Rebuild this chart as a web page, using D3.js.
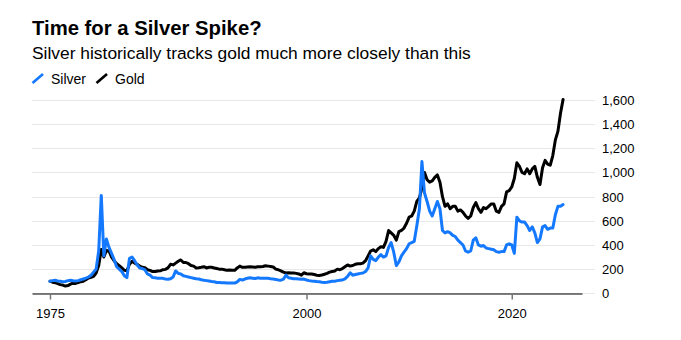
<!DOCTYPE html>
<html>
<head>
<meta charset="utf-8">
<script src="https://cdn.jsdelivr.net/npm/d3@7"></script>
<style>
  body { margin: 0; background: #fff; }
  svg { font-family: "Liberation Sans", Arial, Helvetica, sans-serif; display: block; }
  .title { font-size: 20.3px; font-weight: bold; fill: #000; }
  .subtitle { font-size: 17.4px; fill: #000; }
  .legend text { font-size: 14px; fill: #000; }
  .tick text { font-size: 13px; fill: #000; }
</style>
</head>
<body>
<svg id="chart"></svg>
<script>
// Prices indexed to 100 at the start of 1975, one value per quarter (Jan, Apr, Jul, Oct)
var startYear = 1975

var gold = [
  100, 92, 88, 80,        // 1975
  72, 68, 60, 64,         // 1976
  76, 84, 82, 88,         // 1977
  96, 100, 112, 126,      // 1978
  132, 140, 168, 230,     // 1979
  362, 300, 355, 350,     // 1980
  300, 270, 245, 228,     // 1981
  210, 190, 187, 240,     // 1982
  265, 250, 240, 225,     // 1983
  215, 212, 195, 190,     // 1984
  180, 180, 185, 186,     // 1985
  195, 198, 210, 240,     // 1986
  235, 250, 265, 276,     // 1987
  255, 255, 245, 230,     // 1988
  225, 210, 212, 215,     // 1989
  220, 210, 215, 215,     // 1990
  210, 205, 200, 200,     // 1991
  195, 190, 192, 190,     // 1992
  190, 210, 225, 215,     // 1993
  215, 218, 220, 218,     // 1994
  215, 220, 220, 222,     // 1995
  228, 225, 222, 218,     // 1996
  200, 195, 185, 175,     // 1997
  168, 170, 168, 168,     // 1998
  165, 160, 150, 170,     // 1999
  162, 160, 160, 155,     // 2000
  150, 148, 152, 158,     // 2001
  165, 175, 180, 185,     // 2002
  200, 195, 205, 220,     // 2003
  235, 225, 230, 240,     // 2004
  245, 245, 250, 270,     // 2005
  310, 350, 360, 345,     // 2006
  370, 385, 380, 430,     // 2007
  520, 500, 480, 440,     // 2008
  510, 520, 540, 580,     // 2009
  630, 640, 680, 760,     // 2010
  790, 870, 1000, 940,    // 2011
  920, 930, 960, 980,     // 2012
  920, 800, 720, 740,     // 2013
  700, 720, 720, 680,     // 2014
  690, 670, 640, 620,     // 2015
  640, 710, 750, 700,     // 2016
  670, 710, 700, 720,     // 2017
  740, 740, 680, 670,     // 2018
  720, 740, 840, 850,     // 2019
  880, 950, 1080, 1050,   // 2020
  1000, 990, 1030, 990,   // 2021
  1030, 1050, 960, 900,   // 2022
  1040, 1100, 1070, 1060, // 2023
  1140, 1270, 1340, 1490, // 2024
  1605                    // 2025
]

var silver = [
  100, 105, 108, 102,     // 1975
  100, 96, 98, 105,       // 1976
  108, 104, 102, 105,     // 1977
  112, 118, 125, 135,     // 1978
  150, 175, 200, 350,     // 1979
  810, 310, 450, 380,     // 1980
  330, 280, 220, 200,     // 1981
  180, 145, 130, 290,     // 1982
  300, 270, 235, 210,     // 1983
  205, 195, 160, 150,     // 1984
  130, 128, 125, 124,     // 1985
  124, 118, 116, 120,     // 1986
  135, 185, 165, 160,     // 1987
  145, 140, 135, 130,     // 1988
  125, 120, 118, 112,     // 1989
  108, 105, 102, 98,      // 1990
  95, 90, 90, 88,         // 1991
  88, 85, 85, 86,         // 1992
  85, 95, 115, 110,       // 1993
  118, 125, 128, 125,     // 1994
  122, 128, 125, 124,     // 1995
  125, 124, 120, 118,     // 1996
  115, 110, 108, 118,     // 1997
  150, 128, 125, 120,     // 1998
  120, 118, 116, 118,     // 1999
  110, 105, 102, 100,     // 2000
  97, 95, 92, 90,         // 2001
  92, 96, 100, 100,       // 2002
  105, 108, 110, 120,     // 2003
  140, 170, 150, 155,     // 2004
  160, 165, 168, 180,     // 2005
  210, 310, 280, 270,     // 2006
  300, 320, 300, 310,     // 2007
  380, 420, 340, 230,     // 2008
  260, 310, 340, 370,     // 2009
  410, 420, 430, 560,     // 2010
  700, 1090, 830, 760,    // 2011
  680, 640, 700, 760,     // 2012
  700, 520, 500, 510,     // 2013
  500, 480, 470, 440,     // 2014
  420, 400, 350, 340,     // 2015
  350, 440, 460, 400,     // 2016
  390, 395, 375, 370,     // 2017
  365, 360, 345, 340,     // 2018
  345, 345, 400, 410,     // 2019
  400, 330, 630, 600,     // 2020
  590, 590, 560, 520,     // 2021
  550, 500, 420, 450,     // 2022
  550, 560, 530, 540,     // 2023
  540, 650, 720, 720,     // 2024
  735                     // 2025
]

var xTicks = [1975, 2000, 2020]
var yTicks = [0, 200, 400, 600, 800, 1000, 1200, 1400, 1600]

var series = [
  { name: 'Gold', color: '#000000', values: gold },
  { name: 'Silver', color: '#1479ff', values: silver }
]

var width = 681,
  height = 340

var svg = d3
  .select('#chart')
  .attr('width', width)
  .attr('height', height)

var dates = gold.map(function(d, i) {
  return new Date(startYear + Math.floor(i / 4), (i % 4) * 3, 1)
})

var x = d3
  .scaleTime()
  .domain([new Date(1973, 3, 1), new Date(2026, 10, 5)])
  .range([32, 582])

var y = d3
  .scaleLinear()
  .domain([0, 1600])
  .range([293.3, 100])

// headline block
svg.append('text').attr('class', 'title').attr('x', 32).attr('y', 35)
  .text('Time for a Silver Spike?')
svg.append('text').attr('class', 'subtitle').attr('x', 32).attr('y', 59)
  .text('Silver historically tracks gold much more closely than this')

var legend = svg.append('g').attr('class', 'legend')
var legendItems = [
  { name: 'Silver', color: '#1479ff', x: 32 },
  { name: 'Gold', color: '#000000', x: 96 }
]
legendItems.forEach(function(d) {
  legend.append('line')
    .attr('x1', d.x + 0.5).attr('y1', 83)
    .attr('x2', d.x + 11).attr('y2', 74)
    .attr('stroke', d.color)
    .attr('stroke-width', 2.6)
  legend.append('text')
    .attr('x', d.x + 19).attr('y', 84)
    .text(d.name)
})

// horizontal gridlines
svg.append('g')
  .selectAll('line')
  .data(yTicks)
  .enter()
  .append('line')
  .attr('x1', 32)
  .attr('x2', 595)
  .attr('y1', function(d) { return Math.round(y(d)) + 0.5 })
  .attr('y2', function(d) { return Math.round(y(d)) + 0.5 })
  .attr('stroke', '#e8e8e8')
  .attr('stroke-width', 1.2)

// y labels on the right
var yAxis = svg.append('g')
  .attr('transform', 'translate(595,0)')
  .call(d3.axisRight(y).tickValues(yTicks).tickSize(0).tickPadding(7).tickFormat(d3.format(',')))
yAxis.select('.domain').remove()
yAxis.selectAll('text').attr('dy', '0.34em')

// x axis
var xAxis = svg.append('g')
  .attr('transform', 'translate(0,' + (Math.round(y(0)) + 0.5) + ')')
  .call(
    d3.axisBottom(x)
      .tickValues(xTicks.map(function(yr) { return new Date(yr, 0, 1) }))
      .tickSize(6)
      .tickSizeOuter(0)
      .tickPadding(9)
      .tickFormat(d3.timeFormat('%Y'))
  )
xAxis.select('.domain').attr('stroke', '#000').attr('stroke-width', 1.2)
xAxis.selectAll('.tick line').attr('stroke', '#777').attr('stroke-width', 1.5)

var line = d3
  .line()
  .x(function(d, i) { return x(dates[i]) })
  .y(function(d) { return y(d) })

svg.append('g')
  .selectAll('path')
  .data(series)
  .enter()
  .append('path')
  .attr('d', function(d) { return line(d.values) })
  .attr('fill', 'none')
  .attr('stroke', function(d) { return d.color })
  .attr('stroke-width', 3)
  .attr('stroke-linejoin', 'round')
  .attr('stroke-linecap', 'round')
</script>
</body>
</html>
